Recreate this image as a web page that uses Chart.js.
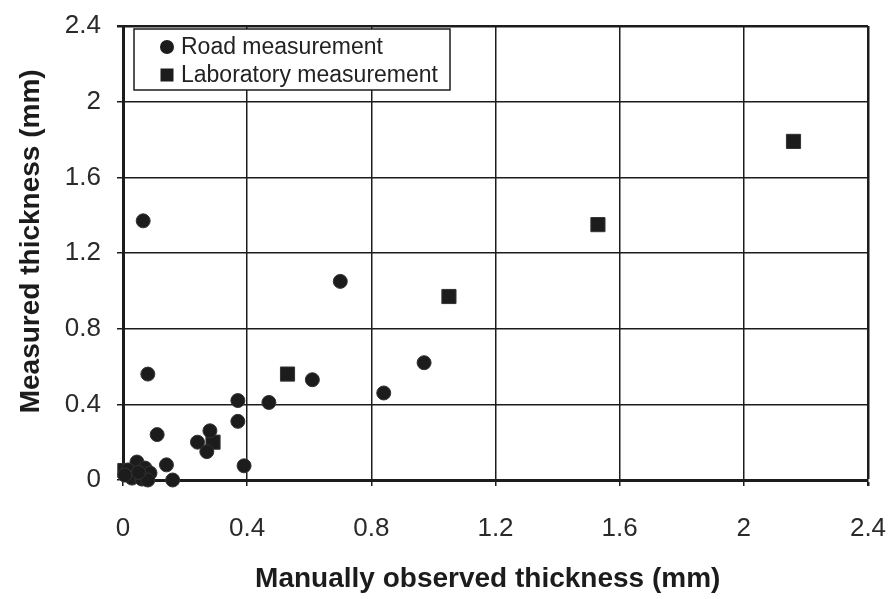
<!DOCTYPE html>
<html>
<head>
<meta charset="utf-8">
<script src="https://cdn.jsdelivr.net/npm/chart.js@4.4.1/dist/chart.umd.min.js"></script>
<style>
    body { margin: 0; background: #fff; }
    #wrap { width: 889px; height: 599px; }
</style>
</head>
<body>
<div id="wrap"><canvas id="thicknessChart"></canvas></div>
<script>
// Values (mm)
const roadX = [0.065, 0.70, 0.97, 0.84, 0.61, 0.47, 0.37, 0.37, 0.28, 0.27, 0.24, 0.08, 0.11, 0.14, 0.16, 0.39,
               0.045, 0.016, 0.071, 0.087, 0.029, 0.061, 0.006, 0.08, 0.05];
const roadY = [1.37, 1.05, 0.62, 0.46, 0.53, 0.41, 0.42, 0.31, 0.26, 0.15, 0.20, 0.56, 0.24, 0.08, 0.00, 0.075,
               0.095, 0.053, 0.063, 0.037, 0.01, 0.005, 0.026, 0.00, 0.04];
const labX = [0.006, 0.29, 0.53, 1.05, 1.53, 2.16];
const labY = [0.05, 0.20, 0.56, 0.97, 1.35, 1.79];

const tickValues = [0, 0.4, 0.8, 1.2, 1.6, 2, 2.4];
const tickLabels = ['0', '0.4', '0.8', '1.2', '1.6', '2', '2.4'];

const seriesNames = ['Road measurement', 'Laboratory measurement'];
// titles carry a little padding so they sit where the scan has them
const xTitle = 'Manually observed thickness (mm)\u00a0\u00a0';
const yTitle = '\u00a0\u00a0\u00a0Measured thickness (mm)';
const FONT = "'Liberation Sans', Arial, Helvetica, sans-serif";
const INK = '#1c1c1c';

function toPoints(xs, ys) {
    return xs.map((x, i) => ({ x: x, y: ys[i] }));
}

// Legend drawn as a framed box inside the plot, like the original figure
const boxLegend = {
    id: 'boxLegend',
    afterDraw(chart) {
        const ctx = chart.ctx;
        const area = chart.chartArea;
        const left = area.left + 11;
        const top = area.top + 3;
        const w = 316, h = 61;

        ctx.save();
        ctx.fillStyle = '#fff';
        ctx.fillRect(left, top, w, h);
        ctx.strokeStyle = INK;
        ctx.lineWidth = 1.5;
        ctx.strokeRect(left, top, w, h);

        ctx.font = '23px ' + FONT;
        ctx.textBaseline = 'middle';
        chart.data.datasets.forEach((ds, i) => {
            const cy = top + 18 + i * 28;
            const cx = left + 33;
            ctx.fillStyle = INK;
            if (ds.pointStyle === 'rect') {
                ctx.fillRect(cx - 6.5, cy - 6.5, 13, 13);
            } else {
                ctx.beginPath();
                ctx.arc(cx, cy, 7, 0, Math.PI * 2);
                ctx.fill();
            }
            ctx.fillStyle = '#222';
            ctx.fillText(ds.label, left + 47, cy + 1);
        });
        ctx.restore();
    }
};

function axisOptions(titleText, isX) {
    return {
        type: 'linear',
        min: 0,
        max: 2.4,
        afterBuildTicks: scale => {
            scale.ticks = tickValues.map(v => ({ value: v }));
        },
        afterFit: scale => {
            // fixed box sizes; tick label overhang is not allowed to shrink the plot
            if (isX) {
                scale.height = 119;
                scale.paddingLeft = 0;
                scale.paddingRight = 0;
            } else {
                scale.width = 123;
                scale.paddingTop = 0;
                scale.paddingBottom = 0;
            }
        },
        border: { display: true, color: INK, width: 3 },
        grid: {
            color: INK,
            lineWidth: ctx => (ctx.tick && ctx.tick.value === 2.4 ? 2.5 : 1.5),
            drawTicks: true,
            tickLength: 6,
            tickColor: INK
        },
        ticks: {
            color: '#2a2a2a',
            font: { family: FONT, size: 26 },
            padding: isX ? 27 : 16,
            callback: (v, i) => tickLabels[i]
        },
        title: {
            display: true,
            text: titleText,
            color: INK,
            font: { family: FONT, size: 28, weight: 'bold' },
            padding: isX ? { top: 0, bottom: 3 } : { top: 14, bottom: 0 }
        }
    };
}

const chart = new Chart(document.getElementById('thicknessChart'), {
    type: 'scatter',
    data: {
        datasets: [{
            label: seriesNames[0],
            data: toPoints(roadX, roadY),
            pointStyle: 'circle',
            pointRadius: 7,
            backgroundColor: INK,
            borderColor: '#333',
            borderWidth: 1,
            clip: false
        }, {
            label: seriesNames[1],
            data: toPoints(labX, labY),
            pointStyle: 'rect',
            pointRadius: 10,
            backgroundColor: INK,
            borderColor: '#333',
            borderWidth: 1,
            clip: false
        }]
    },
    options: {
        responsive: true,
        maintainAspectRatio: false,
        animation: false,
        events: [],
        layout: { padding: { top: 26, right: 21, left: 0, bottom: 0 } },
        scales: {
            x: axisOptions(xTitle, true),
            y: axisOptions(yTitle, false)
        },
        plugins: {
            legend: { display: false },
            tooltip: { enabled: false }
        }
    },
    plugins: [boxLegend]
});
</script>
</body>
</html>
